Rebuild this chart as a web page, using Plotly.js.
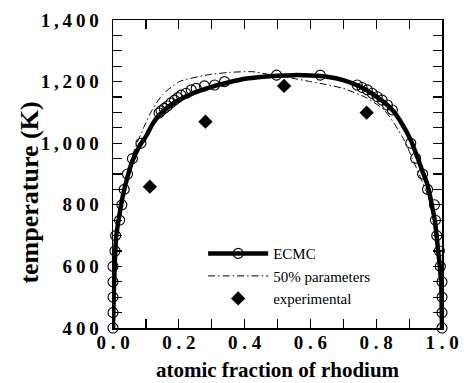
<!DOCTYPE html>
<html>
<head>
<meta charset="utf-8">
<script src="https://cdn.plot.ly/plotly-3.0.1.min.js"></script>
<style>html,body{margin:0;padding:0;background:#fff;}#chart{width:464px;height:383px;}</style>
</head>
<body>
<div id="chart"></div>
<script>
// ECMC simulation points (open circles)
const ecmcX = [0.0,0.0,0.0,0.0,0.0,0.006,0.008,0.02,0.027,0.034,0.044,0.059,0.085,
  0.140,0.146,0.156,0.166,0.176,0.187,0.197,0.207,0.222,0.238,0.253,0.278,0.309,0.339,0.497,
  0.630,0.742,0.757,0.773,0.788,0.803,0.818,0.834,0.849,
  0.905,0.920,0.941,0.956,0.977,0.980,0.984,0.992,0.995,1.0,1.0,1.0,1.0];
const ecmcT = [400,450,500,550,600,650,700,750,800,850,900,950,1000,
  1098,1105,1113,1121,1131,1140,1148,1156,1162,1173,1178,1186,1189,1200,1221,
  1221,1189,1181,1173,1162,1151,1140,1124,1108,
  1000,951,900,850,800,750,700,650,600,550,500,450,400];

// ECMC smooth curve (thick line)
const ecmcLineX = [0.0,0.002,0.005,0.01,0.02,0.03,0.045,0.06,0.08,0.1,0.12,0.141,0.17,0.2,0.25,0.30,0.35,0.406,0.45,0.5,0.55,
  0.6,0.65,0.70,0.75,0.80,0.85,0.88,0.905,0.925,0.942,0.956,0.966,0.978,0.987,0.997,1.0];
const ecmcLineT = [400,500,600,700,770,830,895,945,990,1022,1062,1092,1120,1140,1165,1183,1197,1210,1215,1219,1221,
  1220,1216,1205,1184,1152,1107,1060,1010,955,905,865,816,750,664,556,400];

// 50% parameters (dash-dot line)
const halfX = [0.0,0.005,0.012,0.025,0.04,0.064,0.095,0.12,0.151,0.202,0.283,0.355,0.425,0.5,0.55,0.6,0.65,0.70,0.773,0.824,0.854,0.885,0.91,0.93,0.95,0.965,0.985,0.995,1.0];
const halfT = [400,600,700,800,880,975,1055,1110,1158,1200,1221,1230,1232,1218,1210,1200,1190,1178,1146,1108,1065,1010,950,900,850,800,700,600,400];

// experimental
const expX = [0.112,0.281,0.520,0.771];
const expT = [859,1070,1186,1099];

// ticks
const xTickVals = [0,0.1,0.2,0.3,0.4,0.5,0.6,0.7,0.8,0.9,1.0];
const xTickText = ['0 . 0','','0 . 2','','0 . 4','','0 . 6','','0 . 8','','1 . 0'];
const yTickVals = [400,450,500,550,600,650,700,750,800,850,900,950,1000,1050,1100,1150,1200,1250,1300,1350,1400];
const T = '\u2009';
const yTickText = ['4'+T+'0'+T+'0','','','','6'+T+'0'+T+'0','','','','8'+T+'0'+T+'0','','','',
  '1'+T+','+T+'0'+T+'0'+T+'0','','','','1'+T+','+T+'2'+T+'0'+T+'0','','','','1'+T+','+T+'4'+T+'0'+T+'0'];
const yTitle = 'temperature (K)';

const serif = 'Liberation Serif, Times New Roman, serif';

const traces = [
  {x: ecmcLineX, y: ecmcLineT, mode: 'lines+markers', name: 'ECMC', line: {color: '#000', width: 4.5, shape: 'spline', smoothing: 0.6},
   marker: {symbol: 'circle-open', size: 10, color: '#000', line: {width: 1.1, color: '#000'}},
   selectedpoints: [], unselected: {marker: {opacity: 0}}, cliponaxis: false},
  {x: halfX, y: halfT, mode: 'lines', name: '50% parameters', line: {color: '#000', width: 1, dash: '7px,3px,1.5px,3px', shape: 'spline', smoothing: 0.6}, cliponaxis: false},
  {x: expX, y: expT, mode: 'markers', name: 'experimental', marker: {symbol: 'diamond', size: 11, color: '#000'}, cliponaxis: false},
  {x: ecmcX, y: ecmcT, mode: 'markers', name: 'ECMC pts', showlegend: false, marker: {symbol: 'circle-open', size: 10, color: '#000', line: {width: 1.1, color: '#000'}}, cliponaxis: false}
];

const layout = {
  width: 464, height: 383,
  margin: {l: 113, r: 22, t: 20, b: 55, pad: 0},
  paper_bgcolor: '#fff', plot_bgcolor: '#fff',
  showlegend: true,
  legend: {x: 0.274, y: 0.295, xanchor: 'left', yanchor: 'top', traceorder: 'normal',
    font: {family: serif, size: 15, color: '#000'}, bgcolor: 'rgba(0,0,0,0)', itemwidth: 60, tracegroupgap: 0},
  xaxis: {range: [0, 1], tickmode: 'array', tickvals: xTickVals, ticktext: xTickText,
    ticks: 'inside', ticklen: 9, tickwidth: 1.2, tickcolor: '#000', mirror: 'ticks',
    showline: true, linecolor: '#000', linewidth: 1.5, showgrid: false, zeroline: false,
    tickfont: {family: serif, size: 19, color: '#000', weight: 'bold'}, ticklabelstandoff: -3,
    title: {text: 'atomic fraction of rhodium', font: {family: serif, size: 21, color: '#000', weight: 'bold'}, standoff: 10}},
  yaxis: {range: [400, 1400], tickmode: 'array', tickvals: yTickVals, ticktext: yTickText,
    ticks: 'inside', ticklen: 9, tickwidth: 1.2, tickcolor: '#000', mirror: 'ticks',
    showline: true, linecolor: '#000', linewidth: 1.5, showgrid: false, zeroline: false,
    tickfont: {family: serif, size: 19, color: '#000', weight: 'bold'}, ticklabelstandoff: 9},
  annotations: [{text: yTitle, xref: 'paper', yref: 'paper', x: -0.255, y: 0.44, xanchor: 'center', yanchor: 'middle',
    textangle: -90, showarrow: false, font: {family: serif, size: 26, color: '#000', weight: 'bold'}}]
};

Plotly.newPlot('chart', traces, layout, {staticPlot: true, displayModeBar: false});
</script>
</body>
</html>
